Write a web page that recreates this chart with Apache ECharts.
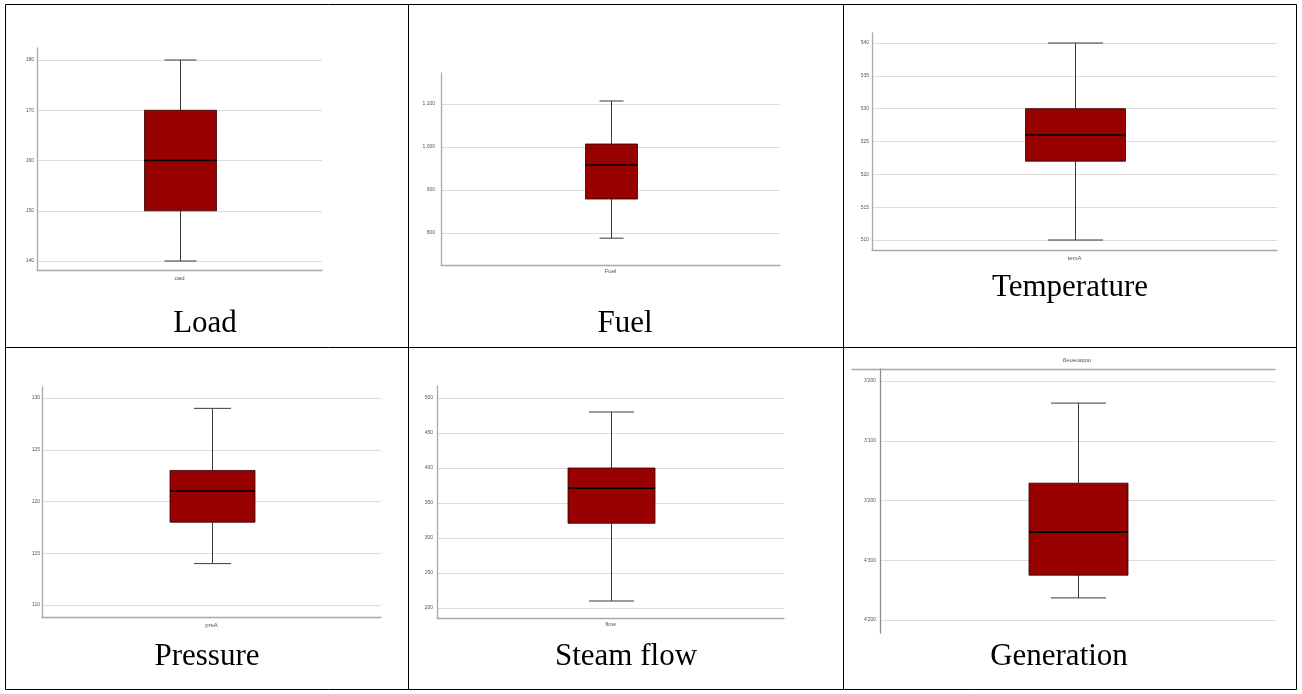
<!DOCTYPE html>
<html>
<head>
<meta charset="utf-8">
<title>Boxplots of plant variables</title>
<script src="https://cdn.jsdelivr.net/npm/echarts@6/dist/echarts.min.js"></script>
<style>
  html, body { margin: 0; padding: 0; background: #fff; }
  #chart { width: 1302px; height: 694px; }
</style>
</head>
<body>
<div id="chart"></div>
<script>
// Cell captions and the category names printed under each box
const captions = ['Load', 'Fuel', 'Temperature', 'Pressure', 'Steam flow', 'Generation'];
const categoryNames = ['oad', 'Fuel', 'temA', 'preA', 'flow', 'generation'];

// Five-number summaries: [min, Q1, median, Q3, max]
const loadStats = [140, 150, 160, 170, 180];
const fuelStats = [788, 879, 958, 1007, 1107];
const tempStats = [510, 522, 526, 530, 540];
const pressureStats = [114, 118, 121, 123, 129];
const flowStats = [210, 321, 371, 400, 480];
const generationStats = [0.37, 1.71, 2.53, 3.25, 3.63];

// Tick values of each value axis
const loadTicks = [140, 150, 160, 170, 180];
const fuelTicks = [800, 900, 1000, 1100];
const tempTicks = [510, 515, 520, 525, 530, 535, 540];
const pressureTicks = [110, 115, 120, 125, 130];
const flowTicks = [200, 250, 300, 350, 400, 450, 500];
const generationTicks = [0, 1, 2, 3, 4];
const generationTickLabels = ["3'200", "3'100", "3'200", "4'300", "4'200"];

const allStats = [loadStats, fuelStats, tempStats, pressureStats, flowStats, generationStats];
const allTicks = [loadTicks, fuelTicks, tempTicks, pressureTicks, flowTicks, generationTicks];

// Pixel layout of each small chart: frame = axis lines, plot = first..last gridline
const layout = [
  { frame: [37, 48, 322, 270],    plot: [37, 60, 322, 261],    box: 72,  cap: 32, catMargin: 5, tickMargin: 3 },
  { frame: [441, 73, 780, 265],   plot: [441, 104, 780, 233],  box: 52,  cap: 24, catMargin: 3, tickMargin: 6 },
  { frame: [872, 33, 1277, 250],  plot: [872, 43, 1277, 240],  box: 100, cap: 55, catMargin: 5, tickMargin: 3 },
  { frame: [42, 387, 381, 617],   plot: [42, 398, 381, 605],   box: 85,  cap: 37, catMargin: 5, tickMargin: 2 },
  { frame: [437, 386, 784, 618],  plot: [437, 398, 784, 608],  box: 87,  cap: 45, catMargin: 3, tickMargin: 4 },
  { frame: [880, 369, 1275, 633], plot: [880, 381, 1275, 620], box: 99,  cap: 55, catMargin: 4, tickMargin: 4 }
];
// the upside-down chart's top rule runs past its value axis
const generationTopRule = [852, 369, 1275, 633];
const captionPos = [[205, 324], [625, 324], [1070, 288], [207, 657], [626, 657], [1059, 657]];

const W = 1302, H = 694;
const BOX_FILL = '#990000';
const GRID_COLOR = '#dcdcdc';
const AXIS_COLOR = '#a9a9a9';
const TICK_FONT = { fontSize: 5, color: '#555', fontFamily: 'Liberation Sans' };

function gridRect(r) {
  return { left: r[0], top: r[1], width: r[2] - r[0], height: r[3] - r[1], outerBoundsMode: 'none', containLabel: false };
}

function tickFormatter(i) {
  if (i === 5) return v => generationTickLabels[generationTicks.indexOf(Math.round(v))] || '';
  if (i === 1) return v => v.toLocaleString('en-US');
  return v => String(v);
}

// Draws whiskers with short caps, the filled box and the median bar
function boxRenderer(boxW, capW) {
  return function (params, api) {
    const c = api.value(0);
    const pMin = api.coord([c, api.value(1)]);
    const pQ1 = api.coord([c, api.value(2)]);
    const pMed = api.coord([c, api.value(3)]);
    const pQ3 = api.coord([c, api.value(4)]);
    const pMax = api.coord([c, api.value(5)]);
    const x = Math.round(pMed[0]) + 0.5;
    const whisker = { stroke: '#3a3a3a', lineWidth: 1 };
    const line = (x1, y1, x2, y2, style) => ({ type: 'line', shape: { x1, y1, x2, y2 }, style });
    const top = Math.min(pQ1[1], pQ3[1]);
    const h = Math.abs(pQ1[1] - pQ3[1]);
    return {
      type: 'group',
      children: [
        line(x, pMax[1], x, pQ3[1], whisker),
        line(x, pMin[1], x, pQ1[1], whisker),
        line(x - capW / 2, pMax[1], x + capW / 2, pMax[1], whisker),
        line(x - capW / 2, pMin[1], x + capW / 2, pMin[1], whisker),
        { type: 'rect', shape: { x: x - boxW / 2, y: top, width: boxW, height: h },
          style: { fill: BOX_FILL, stroke: '#2a0000', lineWidth: 0.8 } },
        line(x - boxW / 2, pMed[1], x + boxW / 2, pMed[1], { stroke: '#000', lineWidth: 1.6 })
      ]
    };
  };
}

const grid = [], xAxis = [], yAxis = [], series = [];
layout.forEach((L, i) => {
  const flipped = i === 5;
  const ticks = allTicks[i];
  // frame grid: only the two axis lines and the category name
  grid.push(gridRect(L.frame));
  xAxis.push({
    gridIndex: 2 * i, type: 'category', data: [categoryNames[i]],
    position: flipped ? 'top' : 'bottom',
    axisLine: { show: !flipped, onZero: false, lineStyle: { color: AXIS_COLOR, width: 1.3 } },
    axisTick: { show: false }, splitLine: { show: false },
    axisLabel: { show: !flipped, margin: L.catMargin, fontSize: 6, color: '#555', fontFamily: 'Liberation Sans' }
  });
  yAxis.push({
    gridIndex: 2 * i, type: 'value', min: 0, max: 1,
    axisLine: { show: true, onZero: false, lineStyle: { color: flipped ? '#8c8c8c' : AXIS_COLOR, width: 1.3 } },
    axisTick: { show: false }, axisLabel: { show: false }, splitLine: { show: false }
  });
  // plot grid: value scale, gridlines and tick labels
  grid.push(gridRect(L.plot));
  xAxis.push({
    gridIndex: 2 * i + 1, type: 'category', data: [categoryNames[i]],
    position: flipped ? 'top' : 'bottom',
    axisLine: { show: false, onZero: false }, axisTick: { show: false }, axisLabel: { show: false }, splitLine: { show: false }
  });
  yAxis.push({
    gridIndex: 2 * i + 1, type: 'value',
    min: ticks[0], max: ticks[ticks.length - 1], interval: ticks[1] - ticks[0],
    inverse: flipped,
    axisLine: { show: false }, axisTick: { show: false },
    axisLabel: Object.assign({ margin: L.tickMargin, formatter: tickFormatter(i) }, TICK_FONT),
    splitLine: { show: true, lineStyle: { color: GRID_COLOR, width: 1 } }
  });
  series.push({
    type: 'custom', name: captions[i],
    xAxisIndex: 2 * i + 1, yAxisIndex: 2 * i + 1,
    data: [[0].concat(allStats[i])],
    encode: { x: 0, y: [1, 2, 3, 4, 5] },
    renderItem: boxRenderer(L.box, L.cap),
    silent: true, z: 3
  });
});

// long top rule of the upside-down chart
grid.push(gridRect(generationTopRule));
xAxis.push({
  gridIndex: grid.length - 1, type: 'category', data: [categoryNames[5]], position: 'top',
  axisLine: { show: true, onZero: false, lineStyle: { color: AXIS_COLOR, width: 1.3 } },
  axisTick: { show: false }, axisLabel: { show: false }, splitLine: { show: false }
});
yAxis.push({
  gridIndex: grid.length - 1, type: 'value', min: 0, max: 1, show: false
});

// Table frame, cell captions and the upside-down heading of the last chart
const graphic = [
  { type: 'rect', shape: { x: 5.5, y: 4.5, width: 1291, height: 685 }, style: { fill: 'none', stroke: '#000', lineWidth: 1 }, z: 10 },
  { type: 'line', shape: { x1: 408.5, y1: 4.5, x2: 408.5, y2: 689.5 }, style: { stroke: '#000', lineWidth: 1 }, z: 10 },
  { type: 'line', shape: { x1: 843.5, y1: 4.5, x2: 843.5, y2: 689.5 }, style: { stroke: '#000', lineWidth: 1 }, z: 10 },
  { type: 'line', shape: { x1: 5.5, y1: 347.5, x2: 1296.5, y2: 347.5 }, style: { stroke: '#000', lineWidth: 1 }, z: 10 },
  { type: 'text', x: 1077, y: 361, scaleY: -1,
    style: { text: categoryNames[5], fontSize: 6, fill: '#555', fontFamily: 'Liberation Sans', textAlign: 'center', textVerticalAlign: 'middle' } }
];
captions.forEach((t, i) => {
  graphic.push({
    type: 'text', x: captionPos[i][0], y: captionPos[i][1],
    style: { text: t, fontSize: 31, fill: '#000', fontFamily: 'Liberation Serif', textAlign: 'center', textVerticalAlign: 'middle' }
  });
});

const chart = echarts.init(document.getElementById('chart'), null, { renderer: 'canvas', width: W, height: H });
chart.setOption({
  animation: false,
  backgroundColor: '#fff',
  grid, xAxis, yAxis, series, graphic
});
</script>
</body>
</html>
